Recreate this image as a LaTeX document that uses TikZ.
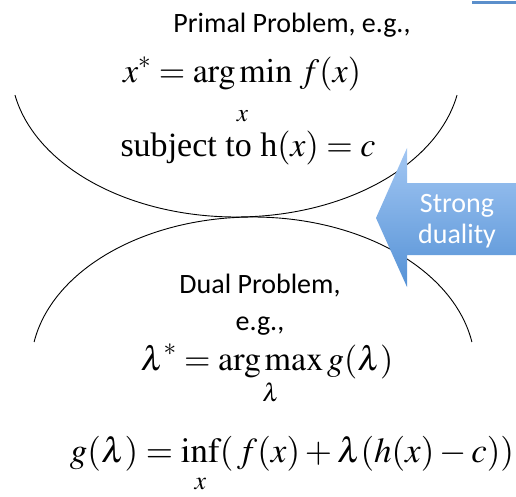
\documentclass[tikz,border=0pt]{standalone}
\usepackage{amsmath}
\usepackage{mathptmx}
\usepackage{fontspec}
\setmainfont{Liberation Serif}
\newfontfamily\calib{Carlito}
\definecolor{arrowtop}{HTML}{A3C7F3}
\definecolor{arrowbot}{HTML}{5592D6}
\definecolor{barblue}{HTML}{5B8FCB}
\begin{document}
\begin{tikzpicture}[x=1pt,y=-1pt,
  lbl/.style={inner sep=0pt, anchor=base, font=\calib\fontsize{28}{32}\selectfont},
  eq/.style={inner sep=0pt, anchor=base, font=\fontsize{34}{40}\selectfont},
  curve/.style={line width=0.9pt, black}]
\useasboundingbox (0,0) rectangle (516,497);
% top-right bar
\fill[barblue] (472,1.5) rectangle (516,4.5);
% arcs
\draw[curve] plot[domain=10.8:169.2, samples=140] ({236+225*cos(\x)},{67+150*sin(\x)});
\draw[curve] plot[domain=189.6:350.4, samples=140] ({253+222*cos(\x)},{367+150*sin(\x)});
% strong duality arrow
\shade[top color=arrowtop, bottom color=arrowbot]
  (376,218) -- (407,148) -- (407,183) -- (516,183) -- (516,255) -- (407,255) -- (407,287) -- cycle;
\node[lbl, text=white] (strong) at (457,212) {Strong};
\node[lbl, text=white] (duality) at (457,243) {duality};
% texts
\node[lbl] (primal) at (292,33) {Primal Problem, e.g.,};
\node[eq] (obj) at (242,83) {$\displaystyle x^{*} = \operatorname*{arg\,min}_{\rule{0pt}{25pt}x}\,f(x)$};
\node[eq] (cons) at (248,157) {subject to h$(x) = c$};
\node[lbl] (dual) at (260,293) {Dual Problem,};
\node[lbl] (eg) at (260,330) {e.g.,};
\node[eq] (dobj) at (267,370) {$\displaystyle \lambda^{*} = \operatorname*{arg\,max}_{\lambda} g(\lambda)$};
\node[eq, font=\fontsize{35}{40}\selectfont] (gdef) at (292,462) {$\displaystyle g(\lambda) = \inf_{\rule{0pt}{22pt}x}(\,f(x)+\lambda(h(x)-c))$};
\end{tikzpicture}
\end{document}
